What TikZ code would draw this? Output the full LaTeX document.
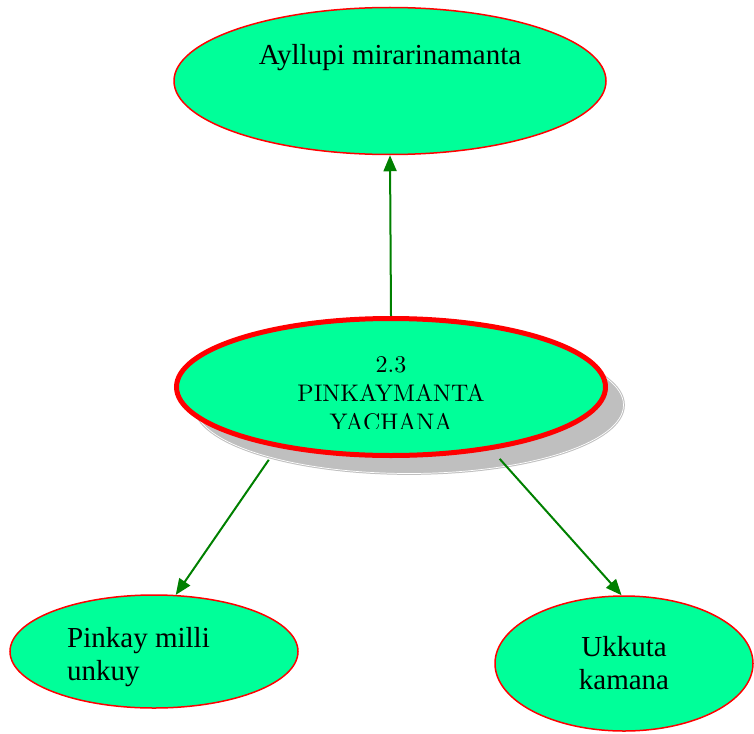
\documentclass[tikz,border=0pt]{standalone}
\usepackage{fontspec}
\newfontfamily\timesfont{Liberation Serif}
\newfontfamily\hubfont{lmroman10-regular}[Extension=.otf]
\usetikzlibrary{shapes.geometric,arrows.meta,shadows}
\definecolor{leafGreen}{RGB}{0,255,153}
\definecolor{arrowGreen}{RGB}{0,128,0}
\begin{document}
\begin{tikzpicture}[x=1pt,y=-1pt,
  leaf/.style={ellipse,draw=red,line width=1.5pt,fill=leafGreen,inner sep=0pt},
  leafText/.style={font=\timesfont\fontsize{29}{33}\selectfont,inner sep=0pt},
  link/.style={draw=arrowGreen,line width=2pt,-{Triangle[length=16pt,width=13pt]}}]
  \useasboundingbox (0,0) rectangle (754,733);
  \node[leaf,minimum width=432pt,minimum height=147pt] (family) at (390,81) {};
  \node[leafText,anchor=base] (familyText) at (390,65) {Ayllupi mirarinamanta};
  \node[leaf,line width=5pt,minimum width=429pt,minimum height=137pt,
    drop shadow={shadow xshift=18pt,shadow yshift=-18pt,opacity=1,fill=black!25,
      draw=black!25,line width=1pt,double=white,double distance=0.7pt}] (hub) at (391,387) {};
  \begin{scope}
    \clip (150,300) rectangle (650,428.5);
    \node[font=\hubfont\fontsize{24}{29}\selectfont,align=center,inner sep=0pt] (hubText) at (391,394) {2.3\\PINKAYMANTA\\YACHANA};
  \end{scope}
  \node[leaf,minimum width=288pt,minimum height=113pt] (milli) at (154,651.5) {};
  \node[leafText,align=left,anchor=west] (milliText) at (67,657) {Pinkay milli\\unkuy};
  \node[leaf,leafText,align=center,minimum width=258pt,minimum height=135pt] (ukkuta) at (624,663.5) {Ukkuta\\kamana};
  \draw[link] (hub.north) -- (family.south);
  \draw[link,shorten <=15pt] (hub.208) -- (milli.69);
  \draw[link,shorten <=12pt] (hub.328) -- (ukkuta.92);
\end{tikzpicture}
\end{document}
